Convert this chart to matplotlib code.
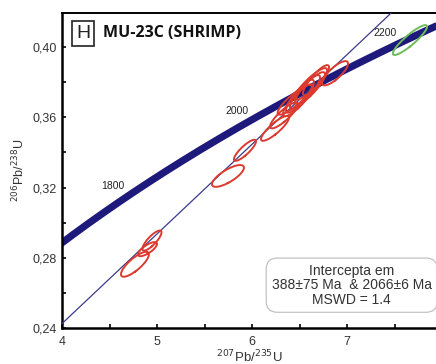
import numpy as np
import matplotlib

matplotlib.use("Agg")
import matplotlib.pyplot as plt
from matplotlib.ticker import FixedLocator, FuncFormatter

plt.rcParams["font.family"] = ["Liberation Sans", "DejaVu Sans"]

# decay constants (1/yr)
L238 = 1.55125e-10
L235 = 9.8485e-10

AGE_LABELS = [1800, 2000, 2200]
INTERCEPTS = [388, 2066]

# spot ellipses: 207Pb/235U, 206Pb/238U, sigma x, sigma y, rho
SPOT_X = [4.768, 4.900, 4.947, 5.747, 5.926, 6.242, 6.337, 6.484, 6.558,
          6.611, 6.505, 6.674, 6.874, 6.450, 6.620]
SPOT_Y = [0.2763, 0.2849, 0.2898, 0.3266, 0.3412, 0.3537, 0.3611, 0.3697, 0.3743,
          0.3766, 0.3720, 0.3811, 0.3851, 0.3700, 0.3790]
SPOT_SX = [0.147, 0.100, 0.100, 0.168, 0.116, 0.147, 0.147, 0.158, 0.158,
           0.158, 0.147, 0.137, 0.137, 0.180, 0.170]
SPOT_SY = [0.0071, 0.0040, 0.0057, 0.0062, 0.0060, 0.0071, 0.0074, 0.0091, 0.0097,
           0.0091, 0.0094, 0.0086, 0.0069, 0.0085, 0.0090]
SPOT_RHO = [0.80, 0.75, 0.82, 0.76, 0.85, 0.86, 0.86, 0.86, 0.86,
            0.86, 0.86, 0.86, 0.80, 0.88, 0.88]

# concordant spot (green)
GREEN = (7.663, 0.4040, 0.180, 0.0085, 0.90)


def ratios(t_ma):
    t = np.asarray(t_ma) * 1e6
    return np.exp(L235 * t) - 1, np.exp(L238 * t) - 1


def ellipse_xy(cx, cy, sx, sy, rho, n=120):
    cov = np.array([[sx * sx, rho * sx * sy], [rho * sx * sy, sy * sy]])
    vals, vecs = np.linalg.eigh(cov)
    a = np.linspace(0, 2 * np.pi, n)
    circ = np.vstack([np.cos(a), np.sin(a)])
    pts = vecs @ (np.sqrt(vals)[:, None] * circ)
    return cx + pts[0], cy + pts[1]


fig = plt.figure(figsize=(4.36, 3.64), dpi=100)
ax = fig.add_axes([62 / 436, 36 / 364, 374 / 436, 315 / 364])
x_max = 4 + 374 / 95
ax.set_xlim(4, x_max)
ax.set_ylim(0.24, 0.4194)

# concordia
t = np.linspace(1500, 2400, 400)
cx, cy = ratios(t)
ax.plot(cx, cy, color="#1d1a7c", lw=5.2, solid_capstyle="butt", zorder=2)

# discordia through the intercepts
(x1, x2), (y1, y2) = ratios(INTERCEPTS)
slope = (y2 - y1) / (x2 - x1)
dx = np.array([3.5, 8.5])
ax.plot(dx, y1 + slope * (dx - x1), color="#3b3a8c", lw=0.9, zorder=3)

for x, y, sx, sy, r in zip(SPOT_X, SPOT_Y, SPOT_SX, SPOT_SY, SPOT_RHO):
    ex, ey = ellipse_xy(x, y, sx, sy, r)
    ax.plot(ex, ey, color="#dc3a2e", lw=1.4, zorder=4)
ex, ey = ellipse_xy(*GREEN)
ax.plot(ex, ey, color="#6dbb5c", lw=1.4, zorder=4)

# age labels
label_offsets = {1800: (-0.35, -0.0010), 2000: (-0.33, 0.0000), 2200: (-0.33, 0.0010)}
for age in AGE_LABELS:
    ax_, ay_ = ratios(age)
    ox, oy = label_offsets[age]
    ax.text(ax_ + ox, ay_ + oy, str(age), fontsize=7.5, color="#222222",
            ha="center", va="center")

ax.spines["right"].set_visible(False)
ax.spines["left"].set_linewidth(1.8)
ax.spines["bottom"].set_linewidth(1.8)
ax.spines["top"].set_linewidth(1.4)

ax.xaxis.set_major_locator(FixedLocator([4, 5, 6, 7]))
ax.xaxis.set_minor_locator(FixedLocator([4.5, 5.5, 6.5, 7.5]))
ax.yaxis.set_major_locator(FixedLocator([0.24, 0.28, 0.32, 0.36, 0.40]))
ax.yaxis.set_minor_locator(FixedLocator([0.26, 0.30, 0.34, 0.38]))
ax.yaxis.set_major_formatter(FuncFormatter(lambda v, p: f"{v:.2f}".replace(".", ",")))
ax.xaxis.set_major_formatter(FuncFormatter(lambda v, p: f"{v:.0f}"))
ax.tick_params(which="both", direction="in", length=3, width=1.2, labelsize=9,
               labelcolor="#333333", top=False, right=False)
ax.tick_params(axis="x", pad=6)

ax.set_xlabel("$^{207}$Pb/$^{235}$U", fontsize=9.5, color="#333333", labelpad=0)
ax.set_ylabel("$^{206}$Pb/$^{238}$U", fontsize=9, color="#333333", labelpad=4)

ax.text(0.057, 0.936, "H", transform=ax.transAxes, fontsize=14, ha="center", va="center",
        color="#222222",
        bbox=dict(boxstyle="square,pad=0.2", fc="white", ec="#222222", lw=1.2))
ax.text(0.11, 0.936, "MU-23C (SHRIMP)", transform=ax.transAxes, fontsize=11.5,
        fontweight="bold", ha="left", va="center", color="#111111",
        family=["Open Sans", "DejaVu Sans"])

ax.text(7.05, 0.2644, "Intercepta em\n388±75 Ma  & 2066±6 Ma\nMSWD = 1.4",
        fontsize=10, ha="center", va="center", color="#333333", linespacing=1.05,
        bbox=dict(boxstyle="round,pad=0.4,rounding_size=0.8", fc="white",
                  ec="#bbbbbb", lw=0.8))

fig.savefig("out.png", dpi=100, facecolor="white")
